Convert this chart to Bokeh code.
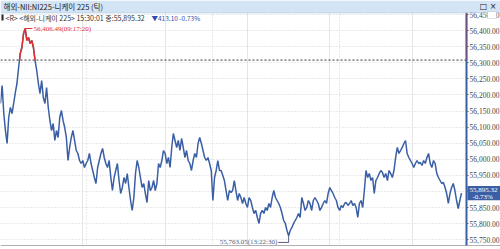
import numpy as np
from bokeh.plotting import figure
from bokeh.models import (Range1d, SingleIntervalTicker, FixedTicker, NumeralTickFormatter,
                          Span, Label, BoxAnnotation, Grid)
from bokeh.embed import file_html
from bokeh.resources import INLINE

# ---- data (tick prices) ----
prices = [
    56173.6, 56229.5, 56142.5, 56089.7, 56049.3, 56130.1, 56161.2, 56142.5, 56173.6, 56207.7,
    56235.7, 56285.4, 56328.9, 56347.5, 56391.0, 56406.49, 56369.3, 56378.6, 56360.0, 56369.3,
    56347.5, 56307.1, 56276.1, 56235.7, 56204.6, 56245.0, 56192.2, 56173.6, 56223.3, 56161.2,
    56120.8, 56089.7, 56111.5, 56058.7, 56089.7, 56068.0, 56130.1, 56151.8, 56120.8, 56099.0,
    56068.0, 55996.5, 56037.0, 56068.0, 56089.7, 56058.7, 56027.6, 56018.3, 55996.5, 55987.2,
    55996.5, 55974.8, 55987.2, 55996.5, 56018.3, 55987.2, 55965.5, 55943.7, 55925.1, 55974.8,
    55996.5, 56018.3, 56033.8, 56005.9, 55987.2, 55974.8, 55996.5, 55943.7, 55903.3, 55943.7,
    55965.5, 55987.2, 55934.4, 55894.0, 55912.7, 55943.7, 55925.1, 55956.1, 55912.7, 55872.3,
    55841.3, 55881.6, 55956.1, 55996.5, 55974.8, 55943.7, 55912.7, 55925.1, 55894.0, 55866.1,
    55934.4, 55903.3, 55912.7, 55934.4, 55903.3, 55925.1, 55987.2, 55974.8, 55996.5, 56027.6,
    56018.3, 55987.2, 56005.9, 55974.8, 56037.0, 56080.4, 56058.7, 56037.0, 56058.7, 56027.6,
    56064.9, 56037.0, 56005.9, 56027.6, 55996.5, 55987.2, 55965.5, 55996.5, 56018.3, 56005.9,
    56049.3, 56068.0, 56049.3, 56027.6, 56005.9, 55996.5, 56005.9, 55987.2, 55965.5, 55872.3,
    55943.7, 55965.5, 55996.5, 55965.5, 55965.5, 55950.0, 55934.4, 55903.3, 55872.3, 55903.3,
    55897.1, 55903.3, 55934.4, 55903.3, 55872.3, 55894.0, 55881.6, 55863.0, 55881.6, 55863.0,
    55850.6, 55881.6, 55872.3, 55850.6, 55832.0, 55841.3, 55819.5, 55800.9, 55832.0, 55841.3,
    55832.0, 55850.6, 55841.3, 55863.0, 55850.6, 55881.6, 55903.3, 55881.6, 55872.3, 55863.0,
    55850.6, 55832.0, 55810.2, 55800.9, 55779.1, 55763.05, 55779.1, 55788.5, 55800.9, 55810.2,
    55819.5, 55832.0, 55819.5, 55881.6, 55863.0, 55841.3, 55850.6, 55872.3, 55863.0, 55841.3,
    55872.3, 55881.6, 55872.3, 55863.0, 55841.3, 55850.6, 55863.0, 55872.3, 55863.0, 55894.0,
    55912.7, 55903.3, 55894.0, 55881.6, 55872.3, 55850.6, 55841.3, 55856.8, 55850.6, 55863.0,
    55866.1, 55856.8, 55863.0, 55872.3, 55856.8, 55863.0, 55850.6, 55819.5, 55863.0, 55872.3,
    55850.6, 55903.3, 55965.5, 55943.7, 55956.1, 55934.4, 55943.7, 55894.0, 55934.4, 55943.7,
    55956.1, 55965.5, 55959.2, 55943.7, 55956.1, 55934.4, 55965.5, 55956.1, 55943.7, 55965.5,
    56005.9, 56037.0, 56018.3, 56027.6, 56037.0, 56049.3, 56058.7, 56018.3, 56005.9, 55996.5,
    55987.2, 55974.8, 55987.2, 55996.5, 55987.2, 55990.3, 55981.0, 55996.5, 55987.2, 56005.9,
    56018.3, 55987.2, 55974.8, 55996.5, 55987.2, 55956.1, 55943.7, 55934.4, 55925.1, 55928.2,
    55912.7, 55894.0, 55863.0, 55894.0, 55912.7, 55925.1, 55903.3, 55872.3, 55847.5, 55872.3,
    55895.32,
]
last_price = 55895.32
change = -413.10
pct_change = -0.73
prev_close = round(last_price - change, 2)
last_time = "15:30:01"
max_time = "09:17:20"
min_time = "13:22:30"
window_title = "해외-NII:NI225-니케이 225 (틱)"
info_text = "<R> <해외-니케이 225> " + last_time + " 종:" + f"{last_price:,.2f}"
chg_text = f"▼{abs(change):,.2f}  {pct_change:.2f}%"
pct_text = f"{pct_change:.2f}%"
axis_lo, axis_hi = 55732.5, 56456.0     # value span of the chart body
view_lo, view_hi = 55720.1, 56493.5     # value span of the whole window height
tick_step = 50

BLUE = "#3a5fa5"
RED = "#e0312d"
NARROW = "Liberation Sans Narrow"

N = len(prices)
xs = np.arange(N, dtype=float)
ys = np.array(prices)
px_per_idx = 461.0 / (N - 1)
x_end = 500.0 / px_per_idx
axis_x = 466.0 / px_per_idx

p = figure(width=500, height=249, output_backend="svg", toolbar_location=None,
           x_range=Range1d(0, x_end), y_range=Range1d(view_lo, view_hi),
           x_axis_location=None, y_axis_location="right",
           min_border_left=0, min_border_right=0, min_border_top=0, min_border_bottom=0)
p.background_fill_color = "white"
p.border_fill_color = "white"
p.outline_line_color = None

ax = p.yaxis[0]
ax.fixed_location = axis_x
ax.bounds = (axis_lo, axis_hi)
ax.ticker = SingleIntervalTicker(interval=tick_step, num_minor_ticks=0)
ax.formatter = NumeralTickFormatter(format="0,0.00")
ax.axis_line_color = BLUE
ax.axis_line_width = 2
ax.major_tick_in = 0
ax.major_tick_out = 2
ax.major_tick_line_color = "#666666"
ax.minor_tick_line_color = None
ax.major_label_text_font = NARROW
ax.major_label_text_font_size = "7.5px"
ax.major_label_text_color = "#444444"
ax.major_label_standoff = 1

p.ygrid.grid_line_color = "#d4d4d4"
p.ygrid.grid_line_dash = "1 2"
grid_fracs = [0.1866, 0.46, 0.7354]
p.add_layout(Grid(dimension=0, ticker=FixedTicker(ticks=[(N - 1) * f for f in grid_fracs]),
                  grid_line_color="#d4d4d4", grid_line_dash="1 2"))

# previous close level
p.add_layout(Span(location=prev_close, dimension="width", line_color="#333333",
                  line_dash="2 2", line_width=1, level="underlay"))

# price line: blue, red above previous close
p.line(xs, ys, line_color=BLUE, line_width=1.5)
red_x, red_y = [], []
cx, cy = [], []
for i in range(N):
    above = ys[i] >= prev_close
    if i > 0 and (ys[i - 1] >= prev_close) != above:
        t = (prev_close - ys[i - 1]) / (ys[i] - ys[i - 1])
        xc = xs[i - 1] + t * (xs[i] - xs[i - 1])
        if above:
            cx, cy = [xc], [prev_close]
        else:
            cx.append(xc); cy.append(prev_close)
            red_x.append(cx); red_y.append(cy)
            cx, cy = [], []
    if above:
        cx.append(xs[i]); cy.append(ys[i])
if cx:
    red_x.append(cx); red_y.append(cy)
p.multi_line(red_x, red_y, line_color=RED, line_width=1.5)

# masks: axis label area and bottom strip (hide grid lines there)
p.add_layout(BoxAnnotation(left=467, right=500, top=0, bottom=249, left_units="canvas",
                           right_units="canvas", top_units="canvas", bottom_units="canvas",
                           fill_color="white", fill_alpha=1, line_color=None, level="glyph"))
p.add_layout(BoxAnnotation(left=0, right=500, top=245.5, bottom=249, left_units="canvas",
                           right_units="canvas", top_units="canvas", bottom_units="canvas",
                           fill_color="white", fill_alpha=1, line_color=None, level="glyph"))
p.add_layout(Span(location=axis_lo, dimension="width", line_color="#b0b0b0", line_width=1,
                  level="glyph"))

# red part of the axis line above previous close
p.add_layout(BoxAnnotation(left=axis_x, right=axis_x, bottom=prev_close, top=axis_hi,
                           fill_color=RED, fill_alpha=1, line_color=RED, line_width=2))

# max / min annotations
imax = int(np.argmax(ys)); vmax = ys[imax]
imin = int(np.argmin(ys)); vmin = ys[imin]
MINC = "#55607a"
p.segment(x0=[imax], y0=[vmax], x1=[imax + 4.4], y1=[vmax], line_color=RED, line_width=1)
p.add_layout(Label(x=imax + 4.4, y=vmax, text=f"{vmax:,.2f}({max_time})", x_offset=1,
                   text_baseline="middle", text_font=NARROW,
                   text_font_size="7px", text_color=RED))
drop = 21
p.segment(x0=[imin], y0=[vmin], x1=[imin], y1=[vmin - drop], line_color=MINC, line_width=1)
p.segment(x0=[imin - 6.3], y0=[vmin - drop], x1=[imin], y1=[vmin - drop], line_color=MINC, line_width=1)
p.add_layout(Label(x=imin - 6.3, y=vmin - drop, text=f"{vmin:,.2f}({min_time})", x_offset=-1,
                   text_align="right", text_baseline="middle", text_font=NARROW,
                   text_font_size="7px", text_color=MINC))

# last price tag on the axis
p.add_layout(BoxAnnotation(left=467, left_units="canvas", right=500, right_units="canvas",
                           bottom=last_price - 22, top=last_price + 22,
                           fill_color=BLUE, fill_alpha=1, line_color=None))
p.add_layout(Label(x=469, x_units="canvas", y=last_price + 11, text=f"{last_price:,.2f}",
                   text_baseline="middle", text_font=NARROW,
                   text_font_size="7px", text_color="white"))
p.add_layout(Label(x=472, x_units="canvas", y=last_price - 11, text=pct_text,
                   text_baseline="middle", text_font=NARROW,
                   text_font_size="7px", text_color="white"))

# window title bar and info line
p.add_layout(BoxAnnotation(left=0, right=500, top=0, bottom=12, left_units="canvas",
                           right_units="canvas", top_units="canvas", bottom_units="canvas",
                           fill_color="#d3e4f4", fill_alpha=1, line_color=None))
p.add_layout(BoxAnnotation(left=0, right=500, top=12, bottom=12.8, left_units="canvas",
                           right_units="canvas", top_units="canvas", bottom_units="canvas",
                           fill_color="#aac4de", fill_alpha=1, line_color=None))
p.add_layout(Label(x=3, y=6, x_units="canvas", y_units="canvas", text=window_title,
                   text_baseline="middle", text_font="Noto Sans CJK KR",
                   text_font_size="7.5px", text_color="#222222"))
p.add_layout(Label(x=496, y=6, x_units="canvas", y_units="canvas", text="□ ×",
                   text_align="right", text_baseline="middle", text_font="DejaVu Sans",
                   text_font_size="8px", text_color="#222222"))
p.add_layout(BoxAnnotation(left=1, right=3, top=14, bottom=20, left_units="canvas",
                           right_units="canvas", top_units="canvas", bottom_units="canvas",
                           fill_color="#222222", fill_alpha=1, line_color=None))
p.add_layout(Label(x=5, y=17, x_units="canvas", y_units="canvas", text=info_text,
                   text_baseline="middle", text_font="Noto Sans CJK KR",
                   text_font_size="7px", text_color="#333333"))
p.add_layout(Label(x=151, y=17, x_units="canvas", y_units="canvas", text=chg_text,
                   text_baseline="middle", text_font="Noto Sans CJK KR",
                   text_font_size="6.5px", text_color="#2a4fb0"))
# small icon over the top axis label
p.add_layout(BoxAnnotation(left=487, right=496, top=11, bottom=18, left_units="canvas",
                           right_units="canvas", top_units="canvas", bottom_units="canvas",
                           fill_color="white", fill_alpha=1, line_color="#999999", line_width=1))

open("out.html", "w").write(file_html(p, INLINE))
